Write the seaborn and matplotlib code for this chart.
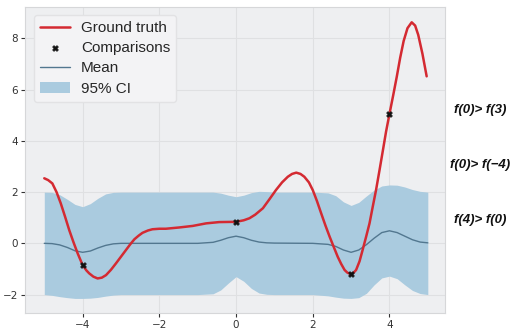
import numpy as np
import pandas as pd
import matplotlib
matplotlib.use("Agg")
import matplotlib.pyplot as plt
import seaborn as sns

# Ground truth curve
gt_x = [-5.0, -4.9, -4.79, -4.68, -4.57, -4.46, -4.35, -4.24, -4.13, -4.0, -3.9, -3.83,
        -3.72, -3.61, -3.5, -3.39, -3.26, -3.13, -3.0, -2.87, -2.76, -2.65, -2.54, -2.44,
        -2.3, -2.18, -2.0, -1.83, -1.48, -1.13, -0.78, -0.44, 0.0, 0.2, 0.35, 0.5, 0.7,
        0.87, 1.04, 1.2, 1.35, 1.46, 1.57, 1.68, 1.78, 1.9, 2.0, 2.11, 2.22, 2.33, 2.44,
        2.55, 2.65, 2.74, 2.83, 2.9, 2.98, 3.05, 3.13, 3.22, 3.3, 3.39, 3.48, 3.56, 3.65,
        3.74, 3.83, 3.91, 4.0, 4.1, 4.19, 4.28, 4.37, 4.47, 4.58, 4.67, 4.75, 4.86, 4.97]
gt_y = [2.54, 2.47, 2.34, 2.0, 1.56, 1.05, 0.52, 0.05, -0.39, -0.85, -1.06, -1.17,
        -1.3, -1.37, -1.34, -1.24, -1.03, -0.78, -0.52, -0.26, -0.04, 0.16, 0.3, 0.41,
        0.5, 0.55, 0.57, 0.57, 0.62, 0.68, 0.78, 0.83, 0.84, 0.9, 0.98, 1.12, 1.37,
        1.72, 2.08, 2.38, 2.6, 2.71, 2.76, 2.71, 2.6, 2.38, 2.08, 1.65, 1.17, 0.7, 0.26,
        -0.15, -0.52, -0.8, -1.04, -1.14, -1.2, -1.17, -1.04, -0.7, -0.26, 0.25, 0.78, 1.4, 2.08,
        2.85, 3.64, 4.35, 5.05, 5.8, 6.5, 7.25, 7.9, 8.4, 8.63, 8.5, 8.14, 7.4, 6.52]

# Comparison points
cmp_x = [-4, 0, 3, 4]
cmp_y = [-0.85, 0.84, -1.2, 5.05]

# Posterior mean and 95% CI
gp_x = [-5.0, -4.8, -4.6, -4.4, -4.2, -4.0, -3.8, -3.6, -3.4, -3.2, -3.0, -2.0, -1.0,
        -0.6, -0.4, -0.2, 0.0, 0.2, 0.4, 0.6, 0.8, 1.0, 2.0, 2.4, 2.6, 2.8, 3.0, 3.2,
        3.4, 3.6, 3.8, 4.0, 4.2, 4.4, 4.6, 4.8, 5.0]
mean_y = [0.0, -0.01, -0.06, -0.16, -0.29, -0.35, -0.3, -0.18, -0.08, -0.02, 0.0, 0.0, 0.0,
          0.04, 0.12, 0.22, 0.28, 0.22, 0.12, 0.05, 0.02, 0.01, 0.0, -0.04, -0.12, -0.26, -0.35, -0.26,
          -0.05, 0.2, 0.42, 0.49, 0.42, 0.28, 0.14, 0.05, 0.02]
upper_y = [2.0, 1.99, 1.9, 1.72, 1.52, 1.43, 1.55, 1.76, 1.93, 1.99, 2.0, 2.0, 2.0,
           2.0, 1.96, 1.88, 1.82, 1.88, 1.98, 2.03, 2.02, 2.0, 2.0, 1.97, 1.86, 1.62, 1.48, 1.6,
           1.85, 2.08, 2.24, 2.28, 2.27, 2.2, 2.1, 2.03, 2.0]
lower_y = [-2.0, -2.03, -2.08, -2.12, -2.15, -2.15, -2.14, -2.11, -2.06, -2.02, -2.0, -2.0, -2.0,
           -1.97, -1.82, -1.55, -1.3, -1.48, -1.76, -1.94, -1.99, -2.0, -2.0, -2.05, -2.1, -2.14, -2.15, -2.12,
           -1.95, -1.62, -1.35, -1.28, -1.38, -1.62, -1.84, -1.96, -2.0]

pref_labels = ["f(0)> f(3)", "f(0)> f(\u22124)", "f(4)> f(0)"]

sns.set_style("darkgrid", {
    "axes.facecolor": "#EEEFF1",
    "grid.color": "#DFE0E2",
    "axes.edgecolor": "#D6D7D9",
    "xtick.bottom": True,
    "ytick.left": True,
    "xtick.color": "#333333",
    "ytick.color": "#333333",
})
plt.rcParams["font.family"] = ["DejaVu Sans"]

fig = plt.figure(figsize=(5.23, 3.33), dpi=100)
ax = fig.add_axes([0.048, 0.06, 0.803, 0.92])

gt_df = pd.DataFrame({"x": gt_x, "y": gt_y})
gp_df = pd.DataFrame({"x": gp_x, "mean": mean_y, "lo": lower_y, "hi": upper_y})
cmp_df = pd.DataFrame({"x": cmp_x, "y": cmp_y})

ax.fill_between(gp_df["x"], gp_df["lo"], gp_df["hi"], color="#AACBDF", lw=0, label="95% CI", zorder=1)
sns.lineplot(data=gp_df, x="x", y="mean", ax=ax, color="#52778F", lw=1.0, label="Mean", zorder=2)
sns.lineplot(data=gt_df, x="x", y="y", ax=ax, color="#D42A32", lw=1.8, label="Ground truth", zorder=3)
sns.scatterplot(data=cmp_df, x="x", y="y", ax=ax, marker="X", color="#111111", s=18,
                edgecolor="#111111", linewidth=0.4, label="Comparisons", zorder=4)

ax.set_xlim(-5.5, 5.45)
ax.set_ylim(-2.72, 9.24)
ax.set_xticks([-4, -2, 0, 2, 4])
ax.set_yticks([-2, 0, 2, 4, 6, 8])
ax.set_xlabel("")
ax.set_ylabel("")
ax.tick_params(labelsize=7.5, length=3, width=0.8, pad=2)

handles, labels = ax.get_legend_handles_labels()
order = ["Ground truth", "Comparisons", "Mean", "95% CI"]
hmap = dict(zip(labels, handles))
leg = ax.legend([hmap[k] for k in order], order, loc="upper left",
                prop={"family": ["Liberation Sans", "DejaVu Sans"], "size": 11},
                frameon=True, facecolor="#F3F3F5", edgecolor="#E2E2E4", framealpha=1,
                borderaxespad=0.55, handlelength=2.0, labelspacing=0.4, borderpad=0.4,
                handletextpad=0.7)

for lab, yy in zip(pref_labels, [0.67, 0.505, 0.34]):
    fig.text(0.918, yy, lab, ha="center", va="center", fontsize=9.5, fontstyle="italic",
             fontweight="bold", family=["Liberation Sans", "DejaVu Sans"], color="#111111")

fig.savefig("out.png", dpi=100)
